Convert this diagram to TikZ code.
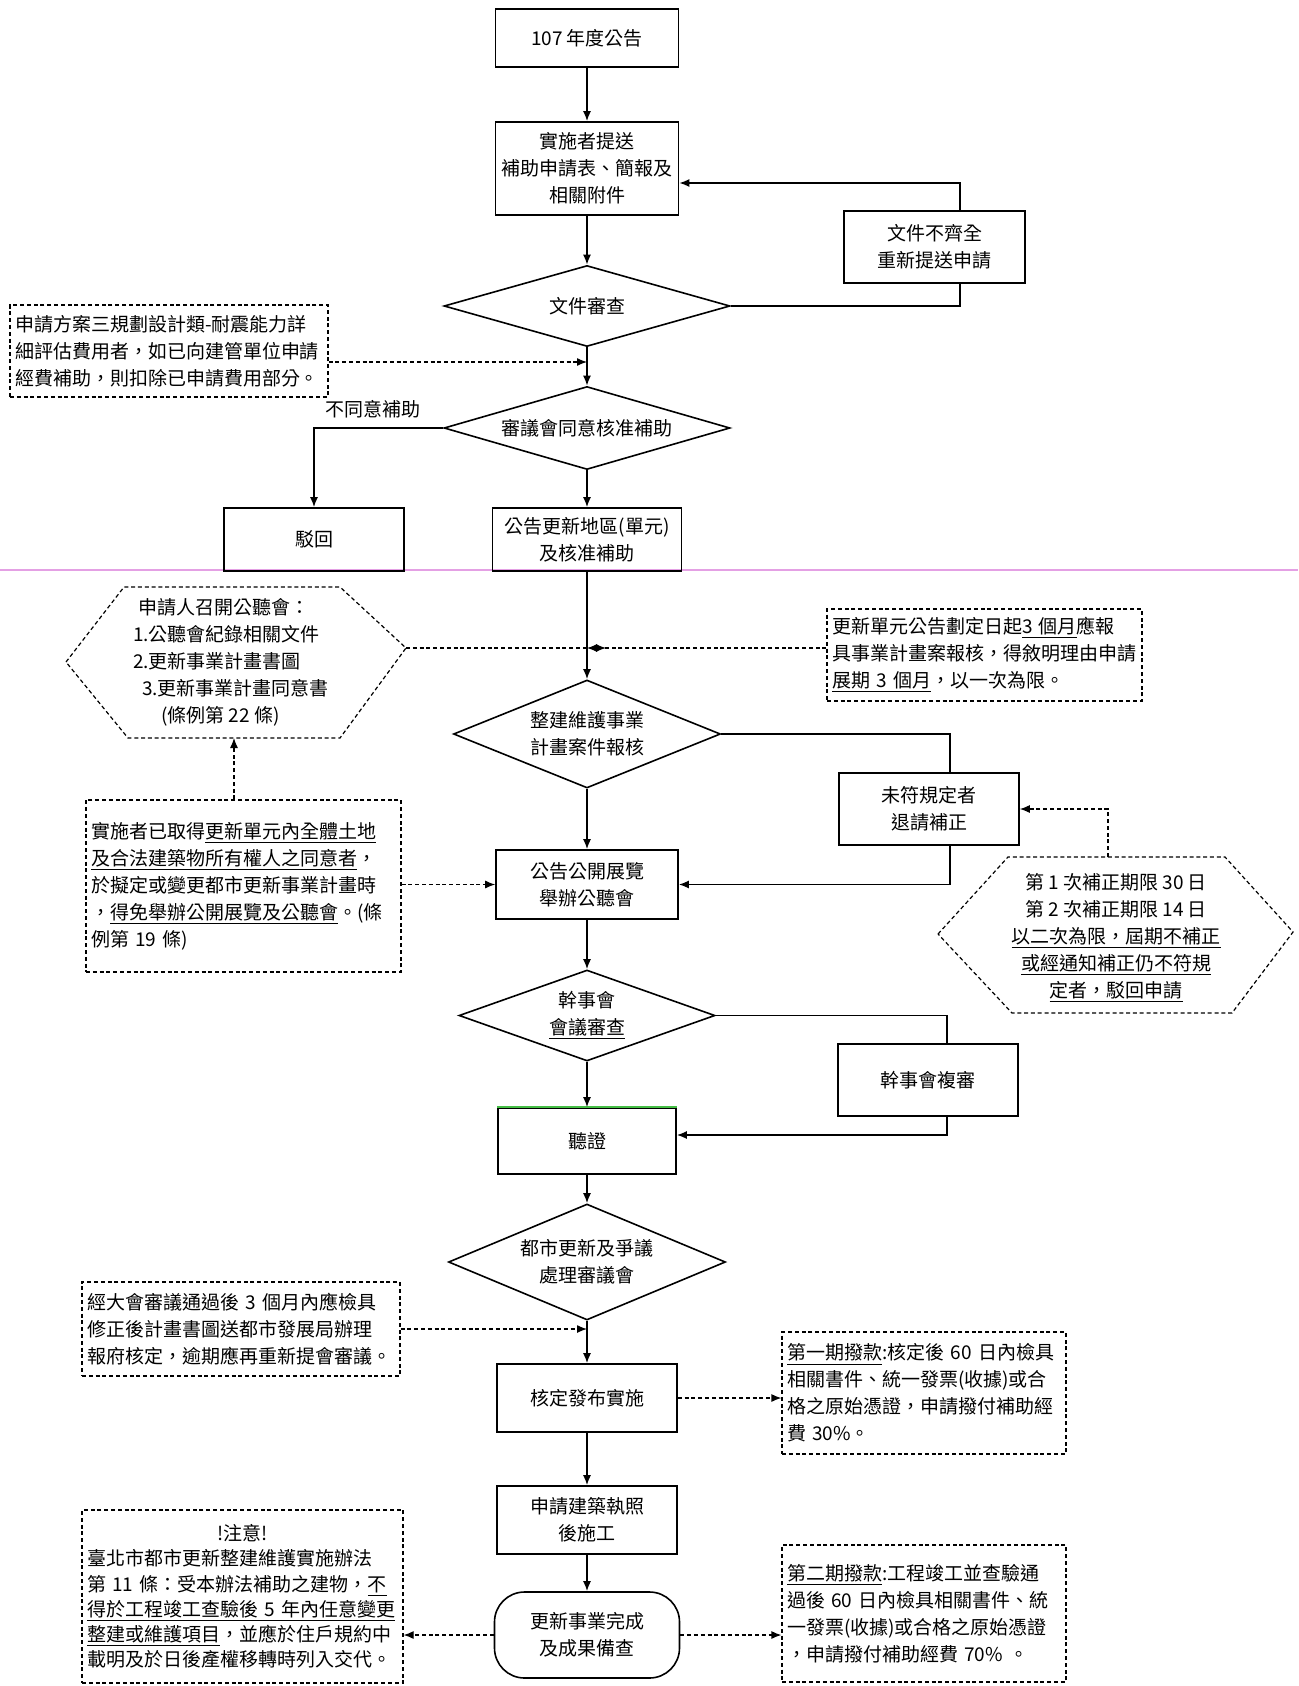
\documentclass[tikz,border=0pt]{standalone}
\usepackage{fontspec}
\setmainfont{Noto Sans CJK TC}
\usepackage{xcolor}
\usetikzlibrary{arrows.meta,shapes.geometric}
\definecolor{scanpink}{RGB}{228,160,228}
\definecolor{scangreen}{RGB}{70,190,70}

\begin{document}
\begin{tikzpicture}[x=0.5pt,y=-0.5pt,
    every node/.style={font=\fontsize{9.5pt}{13.5pt}\selectfont},
    box/.style={draw, line width=0.8pt, align=center, inner sep=2pt},
    dbox/.style={draw, line width=0.6pt, dash pattern=on 2pt off 1.4pt, align=left, inner sep=2.5pt},
    dia/.style={draw, diamond, line width=0.8pt, align=center, inner sep=0pt},
    flow/.style={line width=0.8pt, -{Latex[length=5pt,width=4pt]}},
    plain/.style={line width=0.8pt},
    dflow/.style={line width=0.6pt, dash pattern=on 2pt off 1.4pt, -{Latex[length=5pt,width=4pt]}}]
    \fill[white] (0,0) rectangle (1298,1686);
    \useasboundingbox (0,0) rectangle (1298,1686);
    \draw[scanpink, line width=1pt] (0,570) -- (1298,570);

    % main column
    \node[box, minimum width=91.5pt, minimum height=29pt] (ann) at (587,38) {107 年度公告};
    \node[box, minimum width=91.5pt, minimum height=46.5pt] (sub) at (587,168.5) {實施者提送\\補助申請表、簡報及\\相關附件};
    \node[dia, minimum width=143pt, minimum height=40.5pt, aspect=3.5] (chk) at (587,306) {文件審查};
    \node[dia, minimum width=143pt, minimum height=41.5pt, aspect=3.45] (board) at (587,428) {審議會同意核准補助};
    \node[box, minimum width=94.5pt, minimum height=31.5pt] (pub) at (587,539.5) {公告更新地區(單元)\\及核准補助};
    \node[dia, minimum width=133.5pt, minimum height=54pt, aspect=2.47] (diaA) at (587,734) {整建維護事業\\計畫案件報核};
    \node[box, minimum width=91pt, minimum height=34.5pt] (show) at (587,884.5) {公告公開展覽\\舉辦公聽會};
    \node[dia, minimum width=128pt, minimum height=45.5pt, aspect=2.81] (meet) at (587,1015.5) {幹事會\\\underline{會議審查}};
    \node[box, minimum width=89pt, minimum height=33pt] (hear) at (587,1141) {聽證};
    \node[dia, minimum width=138.5pt, minimum height=58pt, aspect=2.39] (coun) at (587,1262) {都市更新及爭議\\處理審議會};
    \node[box, minimum width=90pt, minimum height=34pt] (appr) at (587,1398) {核定發布實施};
    \node[box, minimum width=90pt, minimum height=34pt] (lic) at (587,1520) {申請建築執照\\後施工};
    \node[box, rounded corners=15pt, minimum width=92.5pt, minimum height=43pt] (done) at (587,1635) {更新事業完成\\及成果備查};
    \draw[scangreen, line width=0.8pt] (hear.north west) -- (hear.north east);

    % side boxes
    \node[box, minimum width=90.5pt, minimum height=36pt] (redo) at (934.5,247) {文件不齊全\\重新提送申請};
    \node[box, minimum width=90pt, minimum height=31.5pt] (rej) at (314,539.5) {駁回};
    \node (nolab) at (373,409) {不同意補助};
    \node[box, minimum width=90pt, minimum height=36pt] (fix) at (929,809) {未符規定者\\退請補正};
    \node[box, minimum width=90pt, minimum height=36pt] (rev) at (928,1080) {幹事會複審};

    % dashed notes
    \node[dbox, text width=154pt, minimum height=46pt] (plan) at (169,351)
        {申請方案三規劃設計類-耐震能力詳\\細評估費用者，如已向建管單位申請\\經費補助，則扣除已申請費用部分。};
    \node[dbox, text width=152.5pt, minimum height=46pt] (upd) at (984.5,655)
        {更新單元公告劃定日起\underline{3 個月}應報\\具事業計畫案報核，得敘明理由申請\\\underline{展期 3 個月}，以一次為限。};
    \node[dbox, text width=152.5pt, minimum height=86pt] (cons) at (243.5,886)
        {實施者已取得\underline{更新單元內全體土地}\\\underline{及合法建築物所有權人之同意者}，\\於擬定或變更都市更新事業計畫時\\，\underline{得免舉辦公開展覽及公聽會}。(條\\例第 19 條)};
    \node[dbox, text width=154pt, minimum height=47pt] (pass) at (241,1329)
        {經大會審議通過後 3 個月內應檢具\\修正後計畫書圖送都市發展局辦理\\報府核定，逾期應再重新提會審議。};
    \node[dbox, text width=137pt, minimum height=61pt] (pay1) at (924,1393)
        {\underline{第一期撥款}:核定後 60 日內檢具\\相關書件、統一發票(收據)或合\\格之原始憑證，申請撥付補助經\\費 30\%。};
    \node[dbox, text width=137pt, minimum height=68.5pt] (pay2) at (924,1613.5)
        {\underline{第二期撥款}:工程竣工並查驗通\\過後 60 日內檢具相關書件、統\\一發票(收據)或合格之原始憑證\\，申請撥付補助經費 70\% 。};
    \node[dbox, text width=155.5pt, minimum height=86.5pt,
        font=\fontsize{9.5pt}{12.6pt}\selectfont] (note) at (242.5,1596.5)
        {\makebox[\linewidth][c]{!注意!}\\臺北市都市更新整建維護實施辦法\\第 11 條：受本辦法補助之建物，\underline{不}\\\underline{得於工程竣工查驗後 5 年內任意變更}\\\underline{整建或維護項目}，並應於住戶規約中\\載明及於日後產權移轉時列入交代。};

    % hexagons
    \coordinate (hl-w) at (66,662);
    \coordinate (hl-nw) at (124,587);
    \coordinate (hl-ne) at (340,587);
    \coordinate (hl-e) at (406,648);
    \coordinate (hl-se) at (340,738);
    \coordinate (hl-sw) at (128,738);
    \coordinate (hl-b) at (234,738);
    \coordinate (hl-x) at (606,648);
    \draw[line width=0.6pt, dash pattern=on 2pt off 1.4pt]
        (hl-w) -- (hl-nw) -- (hl-ne) -- (hl-e) -- (hl-se) -- (hl-sw) -- cycle;
    \node[align=left] (hltxt) at (231,662)
        {\hspace*{2.5pt}申請人召開公聽會：\\1.公聽會紀錄相關文件\\2.更新事業計畫書圖\\\hspace*{4.5pt}3.更新事業計畫同意書\\\hspace*{14pt}(條例第 22 條)};

    \coordinate (hr-w) at (938,934);
    \coordinate (hr-nw) at (1008,857);
    \coordinate (hr-ne) at (1225,857);
    \coordinate (hr-e) at (1293,932);
    \coordinate (hr-se) at (1232,1013);
    \coordinate (hr-sw) at (1012,1013);
    \coordinate (hr-t) at (1108,857);
    \draw[line width=0.6pt, dash pattern=on 2pt off 1.4pt]
        (hr-w) -- (hr-nw) -- (hr-ne) -- (hr-e) -- (hr-se) -- (hr-sw) -- cycle;
    \node[align=center] (hrtxt) at (1116,938)
        {第 1 次補正期限 30 日\\第 2 次補正期限 14 日\\\underline{以二次為限，屆期不補正}\\\underline{或經通知補正仍不符規}\\\underline{定者，駁回申請}};

    % main flow
    \draw[flow] (ann) -- (sub);
    \draw[flow] (sub) -- (chk);
    \draw[flow] (chk) -- (board);
    \draw[flow] (board) -- (pub);
    \draw[flow] (pub) -- (diaA);
    \draw[flow] (diaA) -- (show);
    \draw[flow] (show) -- (meet);
    \draw[flow] (meet) -- (hear);
    \draw[flow] (hear) -- (coun);
    \draw[flow] (coun) -- (appr);
    \draw[flow] (appr) -- (lic);
    \draw[flow] (lic) -- (done);

    % loops and branches
    \draw[plain] (chk.east) -| ([xshift=12.75pt]redo.south);
    \draw[flow] ([xshift=12.75pt]redo.north) |- ([yshift=-7.25pt]sub.east);
    \draw[flow] (board.west) -| (rej.north);
    \draw[plain] (diaA.east) -| ([xshift=10.5pt]fix.north);
    \draw[flow] ([xshift=10.5pt]fix.south) |- (show.east);
    \draw[plain] (meet.east) -| ([xshift=9.5pt]rev.north);
    \draw[flow] ([xshift=9.5pt]rev.south) |- ([yshift=3pt]hear.east);

    % dashed links
    \coordinate (p1) at ([yshift=-5.5pt]plan.east);
    \draw[dflow] (p1) -- (p1 -| sub.south);
    \draw[dflow] (hl-e) -- (hl-x);
    \draw[dflow] (upd.west |- hl-e) -- (hl-e -| pub.south);
    \draw[dflow] (cons.north -| hl-b) -- (hl-b);
    \draw[dflow] (cons.east |- show.west) -- (show.west);
    \draw[dflow] (hr-t) |- (fix.east);
    \draw[dflow] (pass.east) -- (pass.east -| appr.north);
    \draw[dflow] (appr.east) -- (appr.east -| pay1.west);
    \draw[dflow] (done.west) -- (done.west -| note.east);
    \draw[dflow] (done.east) -- (done.east -| pay2.west);
\end{tikzpicture}
\end{document}
